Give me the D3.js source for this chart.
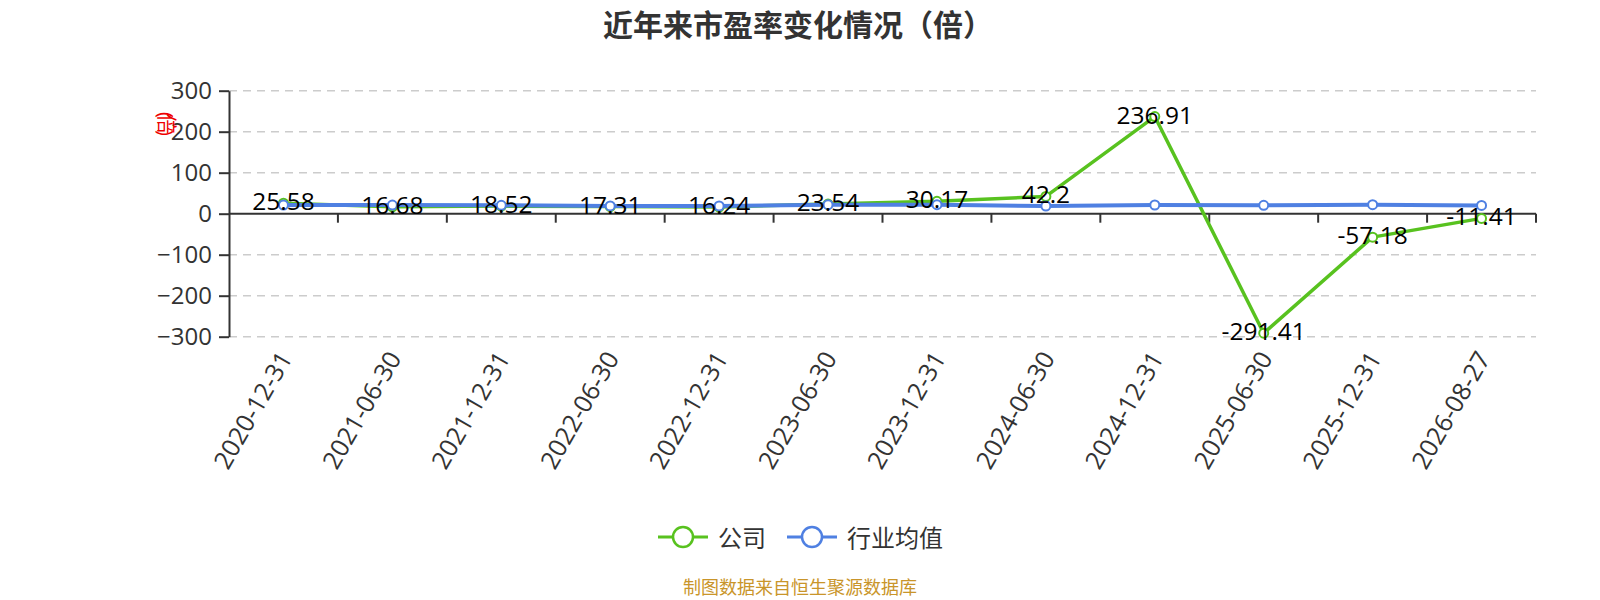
<!DOCTYPE html>
<html lang="zh">
<head>
<meta charset="utf-8">
<title>近年来市盈率变化情况（倍）</title>
<script src="https://cdn.jsdelivr.net/npm/d3@7/dist/d3.min.js"></script>
<style>
body { margin: 0; background: #fff; }
svg { display: block; font-family: "Open Sans", "Noto Sans CJK SC", sans-serif; }
</style>
</head>
<body>
<script>
var width = 1600;
var height = 600;

// data
var dates = ["2020-12-31", "2021-06-30", "2021-12-31", "2022-06-30", "2022-12-31", "2023-06-30",
             "2023-12-31", "2024-06-30", "2024-12-31", "2025-06-30", "2025-12-31", "2026-08-27"];
var company = [25.58, 16.68, 18.52, 17.31, 16.24, 23.54, 30.17, 42.2, 236.91, -291.41, -57.18, -11.41];
var industry = [21.2, 21.0, 20.4, 18.9, 18.8, 22.0, 22.0, 18.8, 21.2, 20.4, 22.1, 20.3];
var yTicks = [-300, -200, -100, 0, 100, 200, 300];
var seriesNames = ["公司", "行业均值"];

var green = "#58c21f";
var blue = "#4f80e2";

var svg = d3.select("body").append("svg")
    .attr("width", width).attr("height", height);

var x = d3.scaleBand().domain(dates).range([229, 1536]);
var y = d3.scaleLinear().domain([-300, 300]).range([336.7, 90.7]);
var cx = function(d, i) { return x(dates[i]) + x.bandwidth() / 2; };

// title
svg.append("text")
    .attr("x", 798).attr("y", 24)
    .attr("text-anchor", "middle").attr("dominant-baseline", "central")
    .attr("font-size", 30).attr("font-weight", "bold").attr("fill", "#333")
    .text("近年来市盈率变化情况（倍）");

// dashed grid
svg.append("g").selectAll("line")
    .data(yTicks.filter(function(t) { return t !== 0; }))
    .enter().append("line")
    .attr("x1", 229).attr("x2", 1536)
    .attr("y1", function(d) { return y(d); }).attr("y2", function(d) { return y(d); })
    .attr("stroke", "#ccc").attr("stroke-width", 1.5).attr("stroke-dasharray", "8,6");

// y axis
var yAxis = svg.append("g")
    .attr("transform", "translate(229,0)")
    .call(d3.axisLeft(y).tickValues(yTicks).tickSize(10).tickPadding(7).tickSizeOuter(0));
yAxis.select(".domain").attr("stroke", "#333").attr("stroke-width", 2);
yAxis.selectAll(".tick line").attr("stroke", "#333").attr("stroke-width", 2);
yAxis.selectAll(".tick text").attr("font-size", 24).attr("fill", "#333")
    .attr("font-family", "\"Open Sans\", sans-serif");

// y axis name
svg.append("text")
    .attr("transform", "translate(166,122) rotate(90)")
    .attr("text-anchor", "middle").attr("dominant-baseline", "central")
    .attr("font-size", 20).attr("letter-spacing", -4).attr("fill", "#e00")
    .text("(倍)");

// x axis on zero
svg.append("line")
    .attr("x1", 229).attr("x2", 1536).attr("y1", y(0)).attr("y2", y(0))
    .attr("stroke", "#333").attr("stroke-width", 2);
svg.append("g").selectAll("line")
    .data(dates.slice(1).map(function(d) { return x(d); }).concat([x.range()[1]]))
    .enter().append("line")
    .attr("x1", function(d) { return d; }).attr("x2", function(d) { return d; })
    .attr("y1", y(0)).attr("y2", y(0) + 9)
    .attr("stroke", "#333").attr("stroke-width", 2);

// x labels, at the bottom of the grid
svg.append("g").selectAll("text")
    .data(dates).enter().append("text")
    .attr("transform", function(d, i) { return "translate(" + (cx(d, i) + 1) + ",353) rotate(-60)"; })
    .attr("text-anchor", "end").attr("dominant-baseline", "central")
    .attr("font-size", 25).attr("fill", "#333")
    .text(function(d) { return d; });

// lines
var line = d3.line().x(cx).y(function(d) { return y(d); });

svg.append("path").datum(company)
    .attr("d", line).attr("fill", "none")
    .attr("stroke", green).attr("stroke-width", 3.5).attr("stroke-linejoin", "round");
svg.append("g").selectAll("circle")
    .data(company).enter().append("circle")
    .attr("cx", cx).attr("cy", function(d) { return y(d); }).attr("r", 4.5)
    .attr("fill", "#fff").attr("stroke", green).attr("stroke-width", 2);

svg.append("path").datum(industry)
    .attr("d", line).attr("fill", "none")
    .attr("stroke", blue).attr("stroke-width", 4).attr("stroke-linejoin", "round");
svg.append("g").selectAll("circle")
    .data(industry).enter().append("circle")
    .attr("cx", cx).attr("cy", function(d) { return y(d); }).attr("r", 4.5)
    .attr("fill", "#fff").attr("stroke", blue).attr("stroke-width", 2);

// value labels for the company series
svg.append("g").selectAll("text")
    .data(company).enter().append("text")
    .attr("x", cx).attr("y", function(d) { return y(d) + 7; })
    .attr("text-anchor", "middle")
    .attr("font-size", 24.5).attr("fill", "#000")
    .text(function(d) { return d; });

// legend
var legendX = [658, 787];
var legendColors = [green, blue];
var lg = svg.append("g").selectAll("g")
    .data(seriesNames).enter().append("g")
    .attr("transform", function(d, i) { return "translate(" + legendX[i] + ",537)"; });
lg.append("line")
    .attr("x1", 0).attr("x2", 50).attr("y1", 0).attr("y2", 0)
    .attr("stroke", function(d, i) { return legendColors[i]; }).attr("stroke-width", 3);
lg.append("circle")
    .attr("cx", 25).attr("cy", 0).attr("r", 10)
    .attr("fill", "#fff").attr("stroke", function(d, i) { return legendColors[i]; }).attr("stroke-width", 2.5);
lg.append("text")
    .attr("x", 60).attr("y", 0).attr("dominant-baseline", "central")
    .attr("font-size", 24).attr("fill", "#333")
    .text(function(d) { return d; });

// source note
svg.append("text")
    .attr("x", 800).attr("y", 587)
    .attr("text-anchor", "middle").attr("dominant-baseline", "central")
    .attr("font-size", 18).attr("fill", "#c9952a")
    .text("制图数据来自恒生聚源数据库");
</script>
</body>
</html>
